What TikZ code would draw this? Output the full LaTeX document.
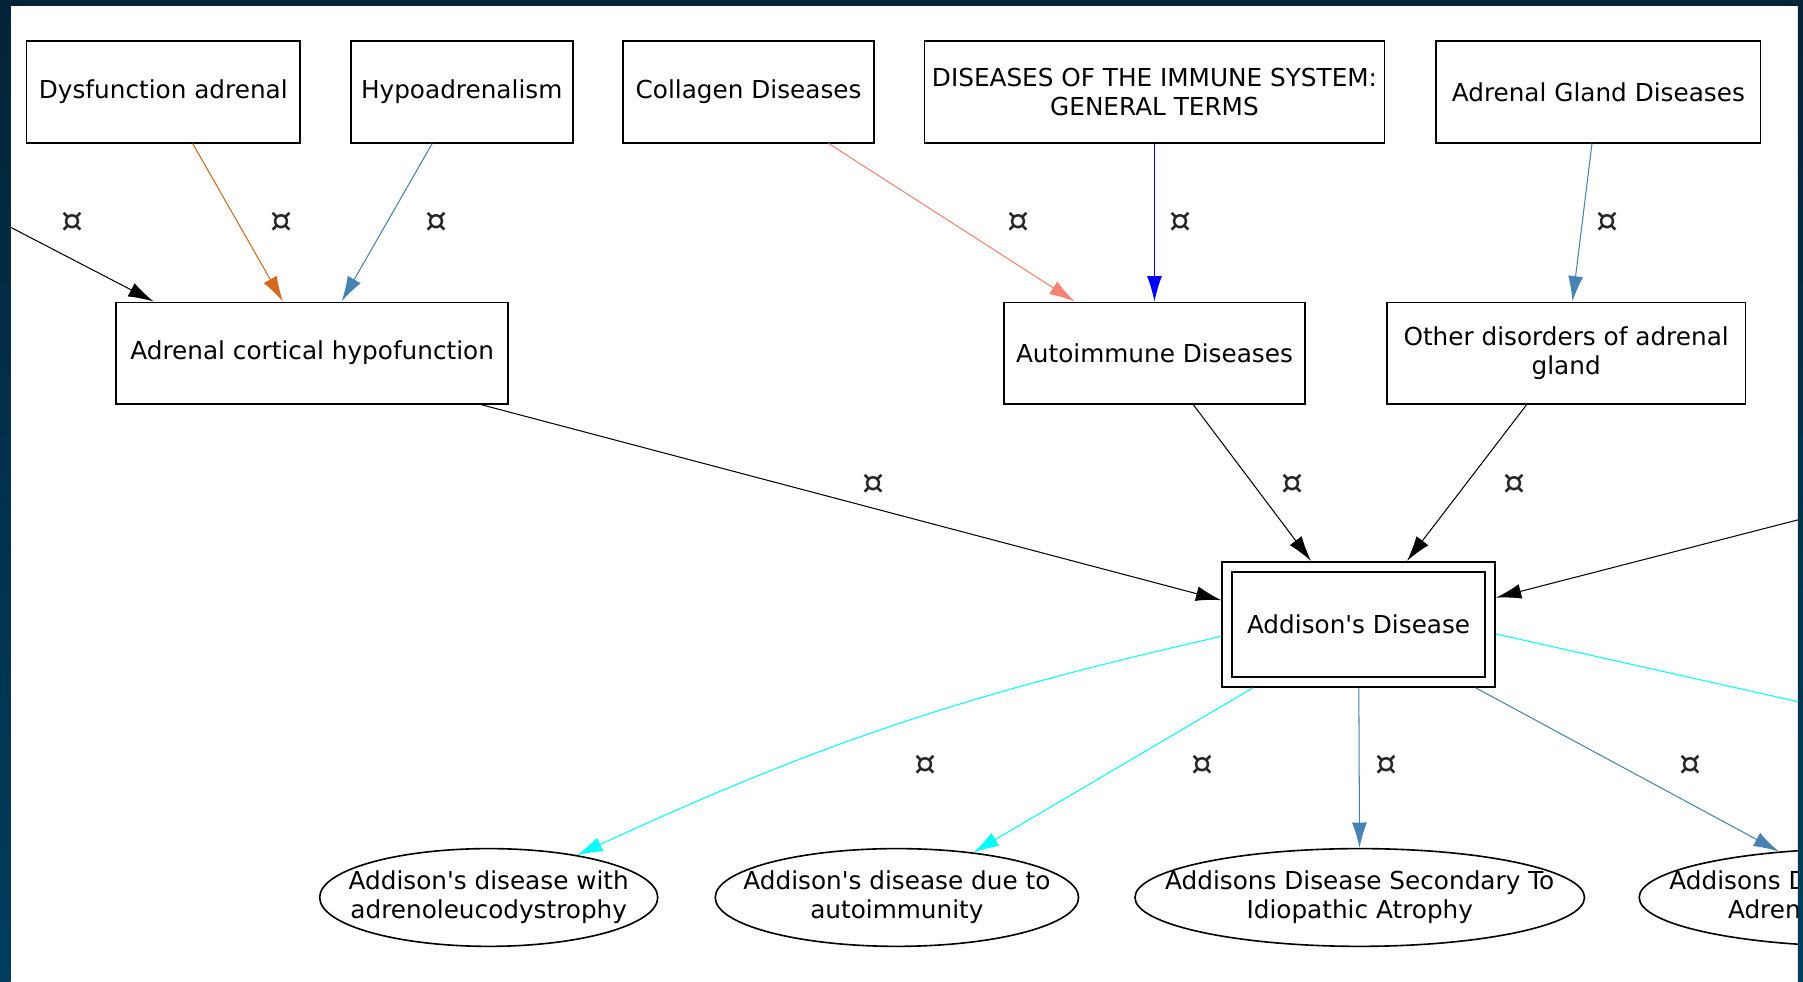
\documentclass[tikz,border=0pt]{standalone}
\usepackage{fontspec}
\newfontfamily\graphfont{DejaVu Sans}
\usetikzlibrary{arrows.meta,shapes.geometric}

\definecolor{framedark}{RGB}{3,36,56}
\definecolor{framelight}{RGB}{0,62,92}
\definecolor{chocolate}{RGB}{210,105,30}
\definecolor{steelblue}{RGB}{70,130,180}
\definecolor{salmon}{RGB}{250,128,114}
\definecolor{aqua}{RGB}{0,255,255}

\tikzset{
    concept/.style={draw, line width=1.6pt, rectangle, minimum height=88pt, inner sep=0pt, align=center},
    leaf/.style={draw, line width=1.4pt, ellipse, minimum height=85pt, inner sep=0pt},
    leaftext/.style={align=center, inner sep=0pt},
    link/.style={line width=0.9pt, -{Latex[length=22pt,width=13pt]}},
    sym/.style={text=black!85, font=\graphfont\fontsize{30}{30}\selectfont}
}

\begin{document}
\begin{tikzpicture}[x=1pt, y=-1pt, font=\graphfont\fontsize{21.5}{25}\selectfont]
    % --- canvas (pixel grid, y downwards) ---
    \useasboundingbox (0,0) rectangle (1568,854);
    \fill[white] (0,0) rectangle (1568,854);

    \begin{scope}
    \clip (9.3,5) rectangle (1563.5,854);

    % --- top row ---
    \node[concept, minimum width=238pt] (dysf) at (142,80) {Dysfunction adrenal};
    \node[concept, minimum width=193pt] (hypo) at (401.5,80) {Hypoadrenalism};
    \node[concept, minimum width=218pt] (coll) at (651,80) {Collagen Diseases};
    \node[concept, minimum width=400pt] (immsys) at (1004,80) {DISEASES OF THE IMMUNE SYSTEM:\\GENERAL TERMS};
    \node[concept, minimum width=282pt] (agd) at (1390,80) {Adrenal Gland Diseases};

    % --- middle row ---
    \node[concept, minimum width=341pt] (ach) at (271.5,307) {Adrenal cortical hypofunction};
    \node[concept, minimum width=262pt] (auto) at (1004,307) {Autoimmune Diseases};
    \node[concept, minimum width=312pt] (other) at (1362,307) {Other disorders of adrenal\\gland};

    % --- focus node (double border) ---
    \node[concept, double, double distance=7.2pt, minimum width=228.5pt, minimum height=100pt,
          outer sep=5.2pt] (addison) at (1181.5,543) {Addison's Disease};

    % --- bottom row (ellipses) ---
    \node[leaf, minimum width=294pt] (adrleu) at (425,780.5) {};
    \node[leaftext] (adrleutxt) at (adrleu) {Addison's disease with\\adrenoleucodystrophy};
    \node[leaf, minimum width=316pt] (autoimm) at (780,780.5) {};
    \node[leaftext] (autoimmtxt) at (autoimm) {Addison's disease due to\\autoimmunity};
    \node[leaf, minimum width=391pt] (idio) at (1182.5,780.5) {};
    \node[leaftext] (idiotxt) at (idio) {Addisons Disease Secondary To\\Idiopathic Atrophy};
    \node[leaf, minimum width=391pt] (adrhaem) at (1621,780.5) {};
    \node[leaftext] (adrhaemtxt) at (adrhaem) {Addisons Disease Secondary To\\Adrenal Haemorrhage};

    % --- ends of links leaving the view ---
    \coordinate (offleft) at (-100,141);
    \coordinate (offright) at (1663,426.5);
    \coordinate (offrightlow) at (1663,632.5);

    % --- links into the middle row ---
    \draw[link] (offleft) -- (ach.162) node[sym] at (63,193) {¤};
    \draw[link, chocolate] (dysf) -- (ach) node[sym] at (245,193) {¤};
    \draw[link, steelblue] (hypo) -- (ach) node[sym] at (380,193) {¤};
    \draw[link, salmon] (coll) -- (auto) node[sym] at (886,193) {¤};
    \draw[link, blue] (immsys) -- (auto) node[sym] at (1027,193) {¤};
    \draw[link, steelblue] (agd) -- (other) node[sym] at (1398,193) {¤};

    % --- links into Addison's Disease ---
    \draw[link] (ach.-17) -- (addison.170) node[sym] at (760,421) {¤};
    \draw[link] (auto) -- (addison) node[sym] at (1124,421) {¤};
    \draw[link] (other) -- (addison) node[sym] at (1317,421) {¤};
    \draw[link] (offright) -- (addison.11);

    % --- links out of Addison's Disease ---
    \draw[link, aqua] (addison.185) to[bend right=6] (adrleu) node[sym] at (805,666) {¤};
    \draw[link, aqua] (addison.211) -- (autoimm) node[sym] at (1046,666) {¤};
    \draw[link, steelblue] (addison) -- (idio) node[sym] at (1206,666) {¤};
    \draw[link, steelblue] (addison) -- (adrhaem) node[sym] at (1470,666) {¤};
    \draw[link, aqua] (addison.-4) -- (offrightlow);
    \end{scope}

    % --- dark frame ---
    \fill[framedark] (0,0) rectangle (1568,5);
    \shade[top color=framedark, bottom color=framelight] (0,0) rectangle (9.3,854);
    \shade[top color=framedark, bottom color=framelight] (1563.5,0) rectangle (1568,854);
\end{tikzpicture}
\end{document}
